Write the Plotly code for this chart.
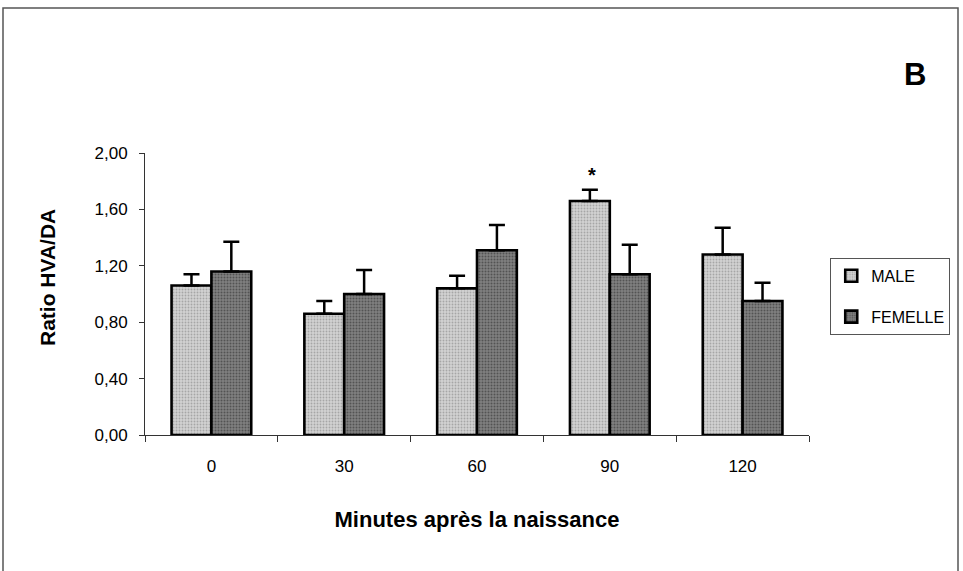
import plotly.graph_objects as go

categories = ["0", "30", "60", "90", "120"]
male = [1.06, 0.86, 1.04, 1.66, 1.28]
male_err = [0.08, 0.09, 0.09, 0.08, 0.19]
female = [1.16, 1.00, 1.31, 1.14, 0.95]
female_err = [0.21, 0.17, 0.18, 0.21, 0.13]
y_ticks = [0.0, 0.4, 0.8, 1.2, 1.6, 2.0]

FONT = "Arial, 'Liberation Sans', sans-serif"

fig = go.Figure()
fig.add_trace(go.Bar(
    x=categories, y=male, name="MALE", legendgroup="m",
    error_y=dict(type="data", array=male_err, arrayminus=[0]*len(male_err),
                 symmetric=False, color="black", thickness=2.5, width=8),
    marker=dict(color="#c4c4c4", line=dict(color="black", width=2.6),
                pattern=dict(shape=".", fgcolor="#7a7a7a", bgcolor="#d2d2d2",
                             size=3, solidity=0.3)),
))
fig.add_trace(go.Bar(
    x=categories, y=female, name="FEMELLE", legendgroup="f",
    error_y=dict(type="data", array=female_err, arrayminus=[0]*len(female_err),
                 symmetric=False, color="black", thickness=2.5, width=8),
    marker=dict(color="#5e5e5e", line=dict(color="black", width=2.6),
                pattern=dict(shape=".", fgcolor="#262626", bgcolor="#808080",
                             size=3, solidity=0.35)),
))

# significance star above male bar at 90 min
i90 = categories.index("90")
fig.add_annotation(x=i90, y=male[i90] + male_err[i90], xref="x", yref="y",
                   text="<b>*</b>", showarrow=False, xshift=-18, yshift=15,
                   font=dict(family=FONT, size=20, color="black"))

# panel letter
fig.add_annotation(x=(915-145)/664, y=(435-75)/282, xref="paper", yref="paper",
                   xanchor="center", yanchor="middle",
                   text="<b>B</b>", showarrow=False,
                   font=dict(family=FONT, size=31, color="black"))

# y-axis title (placed as in the reference, slightly above plot centre)
fig.add_annotation(x=(47-145)/664, y=(435-278)/282, xref="paper", yref="paper",
                   xanchor="center", yanchor="middle", textangle=-90,
                   text="<b>Ratio HVA/DA</b>", showarrow=False,
                   font=dict(family=FONT, size=21, color="black"))

fig.update_layout(
    width=963, height=571,
    margin=dict(l=145, r=154, t=153, b=136),
    paper_bgcolor="white", plot_bgcolor="white",
    barmode="group", bargap=0.4, bargroupgap=0,
    separators=",.",
    font=dict(family=FONT, size=17, color="black"),
    showlegend=True,
    legend=dict(x=1.032, y=0.628, xanchor="left", yanchor="top",
                bordercolor="#555", borderwidth=1, bgcolor="white",
                font=dict(family=FONT, size=16, color="black"),
                itemwidth=30, tracegroupgap=17),
    xaxis=dict(type="category", range=[-0.5, len(categories) - 0.5],
               showline=True, linecolor="#333", linewidth=1,
               ticks="outside", tickson="boundaries", ticklen=6, tickcolor="#333",
               tickfont=dict(family=FONT, size=17, color="black"),
               ticklabelstandoff=16,
               showgrid=False, zeroline=False,
               title=dict(text="<b>Minutes après la naissance</b>", standoff=36,
                          font=dict(family=FONT, size=22))),
    yaxis=dict(range=[0, 2], tickvals=y_ticks, tickformat=".2f",
               showline=True, linecolor="#333", linewidth=1,
               ticks="outside", ticklen=5, tickcolor="#333",
               tickfont=dict(family=FONT, size=17, color="black"),
               ticklabelstandoff=8,
               showgrid=False, zeroline=False),
)

# outer frame
fig.add_shape(type="rect", xref="paper", yref="paper",
              x0=-142/664, x1=(958-145)/664, y0=-(580-435)/282, y1=(435-8)/282,
              line=dict(color="#555", width=1.5), fillcolor="rgba(0,0,0,0)", layer="below")

fig.write_html("out.html")
